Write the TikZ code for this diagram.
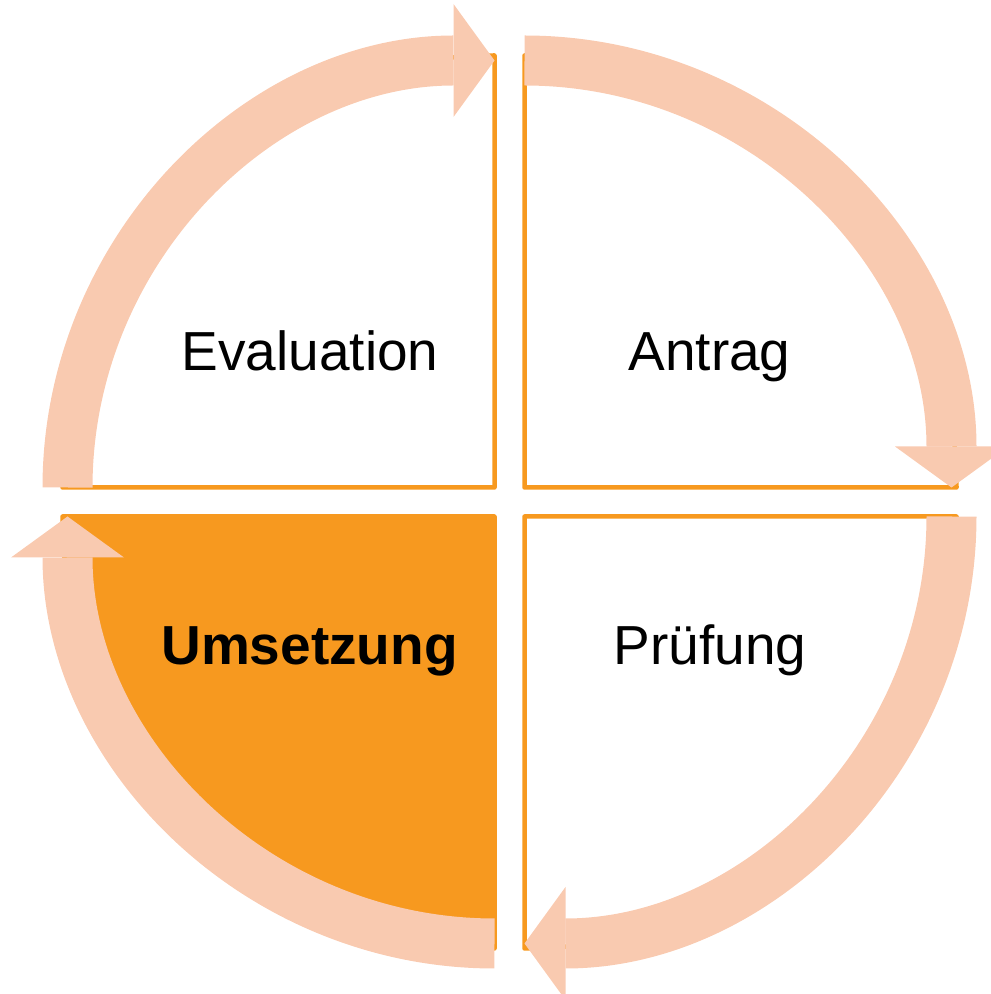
\documentclass[tikz,border=0pt]{standalone}
\usepackage{fontspec}
\setmainfont{Liberation Sans}
\usetikzlibrary{arrows.meta}
\definecolor{quadorange}{HTML}{F7991F}
\definecolor{ringpeach}{HTML}{F9CAB0}

\begin{document}
\begin{tikzpicture}[x=1pt,y=1pt,
    quad/.style={draw=quadorange,line width=4.5pt,line join=round},
    ring/.style={draw=ringpeach,line width=50pt,-{Triangle[length=41pt,width=113pt,line width=0pt]}},
    phase/.style={font=\fontsize{55}{60}\selectfont,anchor=base}]
    \useasboundingbox (0,0) rectangle (991,994);
    % corners of the four quarters
    \coordinate (ev) at (494.5,506.5);
    \coordinate (an) at (524.5,506.5);
    \coordinate (pr) at (524.5,477.5);
    \coordinate (um) at (494.5,477.5);
    \draw[quad] (ev) -- ++(-432,0) arc[start angle=180,end angle=90,radius=432] -- cycle;
    \draw[quad] (an) -- ++(0,432) arc[start angle=90,end angle=0,radius=432] -- cycle;
    \draw[quad] (pr) -- ++(432,0) arc[start angle=0,end angle=-90,radius=432] -- cycle;
    \draw[quad,fill=quadorange] (um) -- ++(0,-432) arc[start angle=270,end angle=180,radius=432] -- cycle;
    % cycle arrows
    \coordinate (ev-in) at ([xshift=-427pt]ev);
    \coordinate (an-in) at ([yshift=427pt]an);
    \coordinate (pr-in) at ([xshift=427pt]pr);
    \coordinate (um-in) at ([yshift=-427pt]um);
    \draw[ring] (ev-in) arc[start angle=180,end angle=90,radius=427];
    \draw[ring] (an-in) arc[start angle=90,end angle=0,radius=427];
    \draw[ring] (pr-in) arc[start angle=0,end angle=-90,radius=427];
    \draw[ring] (um-in) arc[start angle=270,end angle=180,radius=427];
    \node[phase] (evaluation) at (310,623) {Evaluation};
    \node[phase] (antrag) at (709.5,623) {Antrag};
    \node[phase] (pruefung) at (710,329) {Prüfung};
    \node[phase,font=\fontsize{55}{60}\selectfont\bfseries] (umsetzung) at (309.5,329) {Umsetzung};
\end{tikzpicture}
\end{document}
